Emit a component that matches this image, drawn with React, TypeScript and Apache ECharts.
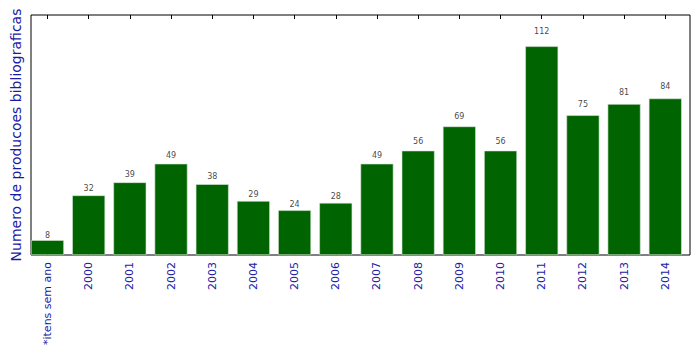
import React, { useEffect, useRef } from "react";
import * as echarts from "echarts";

const categories = [
  "*itens sem ano", "2000", "2001", "2002", "2003", "2004", "2005", "2006",
  "2007", "2008", "2009", "2010", "2011", "2012", "2013", "2014",
];
const values = [8, 32, 39, 49, 38, 29, 24, 28, 49, 56, 69, 56, 112, 75, 81, 84];
const yTitle = "Numero de producoes bibliograficas";

const W = 699;
const H = 354;
const GRID = { left: 31, top: 15, right: 9, bottom: 99 };

export default function App() {
  const ref = useRef<HTMLDivElement>(null);
  useEffect(() => {
    if (!ref.current) return;
    document.body.style.margin = "0";
    const chart = echarts.init(ref.current, undefined, { renderer: "svg" });
    const idx = categories.map((_, i) => i);
    const xMin = -0.4;
    const xMax = categories.length - 0.4;
    const plotW = W - GRID.left - GRID.right;
    const barW = (0.8 * plotW) / (xMax - xMin);
    const yMax = Math.max(...values) * 1.15;
    const font = "DejaVu Sans";
    const blue = "#1a1aa6";
    chart.setOption({
      animation: false,
      textStyle: { fontFamily: font },
      grid: {
        ...GRID,
        show: true,
        borderColor: "#000",
        borderWidth: 1,
        backgroundColor: "transparent",
      },
      xAxis: [
        {
          type: "value",
          position: "bottom",
          min: xMin,
          max: xMax,
          splitLine: { show: false },
          axisLine: { show: false },
          axisTick: {
            show: true,
            inside: true,
            length: 4,
            customValues: idx,
            lineStyle: { color: "#000" },
          },
          axisLabel: {
            show: true,
            customValues: idx,
            rotate: 90,
            margin: 7,
            fontSize: 11,
            fontFamily: font,
            color: blue,
            formatter: (v: number) => categories[Math.round(v)] ?? "",
          },
        },
        {
          type: "value",
          position: "top",
          min: xMin,
          max: xMax,
          splitLine: { show: false },
          axisLine: { show: false },
          axisTick: {
            show: true,
            inside: true,
            length: 4,
            customValues: idx,
            lineStyle: { color: "#000" },
          },
          axisLabel: { show: false },
        },
      ],
      yAxis: {
        type: "value",
        min: 0,
        max: yMax,
        splitLine: { show: false },
        axisLine: { show: false },
        axisTick: { show: false },
        axisLabel: { show: false },
        name: yTitle,
        nameLocation: "middle",
        nameGap: 8,
        nameRotate: 90,
        nameTextStyle: { fontSize: 14, color: blue, fontFamily: font },
      },
      series: [
        {
          type: "bar",
          xAxisIndex: 0,
          data: values.map((v, i) => [i, v]),
          barWidth: barW,
          itemStyle: { color: "#006400", borderColor: "#d8ead8", borderWidth: 0.6 },
        },
        {
          type: "scatter",
          xAxisIndex: 0,
          data: values.map((v, i) => [i, v * 1.05, v]),
          symbolSize: 0,
          silent: true,
          label: {
            show: true,
            position: "top",
            distance: 0,
            fontSize: 8,
            color: "#111",
            fontFamily: font,
            formatter: (p: any) => String(p.value[2]),
          },
        },
      ],
    });
    return () => chart.dispose();
  }, []);
  return (
    <div
      ref={ref}
      style={{ position: "absolute", left: 0, top: 0, width: W, height: H }}
    />
  );
}
